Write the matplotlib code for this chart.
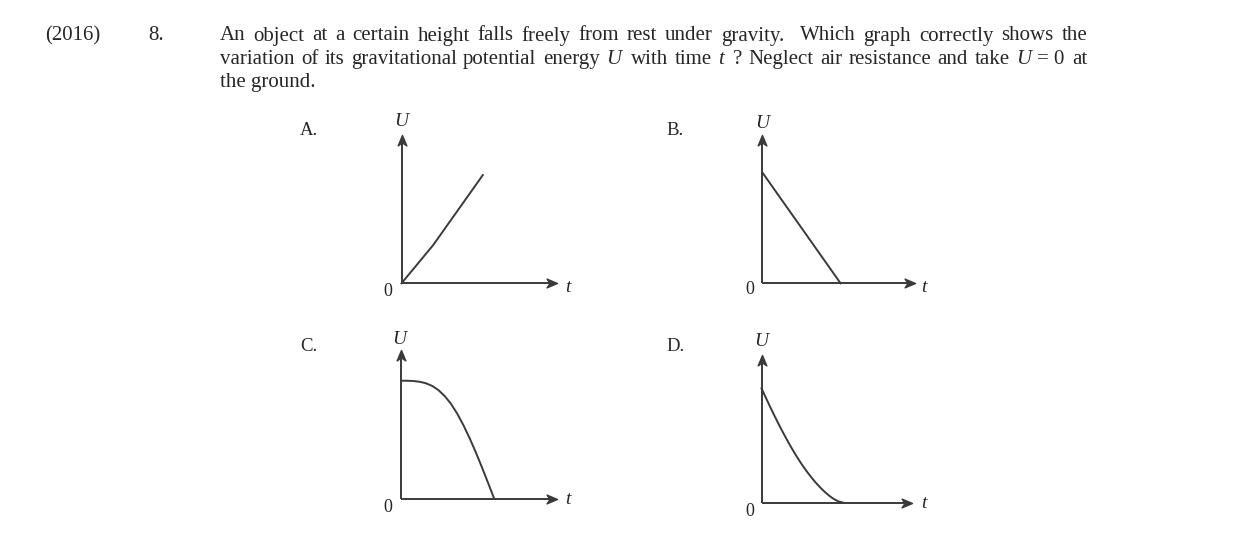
import matplotlib
matplotlib.use("Agg")
import matplotlib.pyplot as plt
from matplotlib.path import Path

plt.rcParams['font.family'] = ['Liberation Serif', 'DejaVu Serif']
plt.rcParams['mathtext.fontset'] = 'custom'
plt.rcParams['mathtext.rm'] = 'Liberation Serif'
plt.rcParams['mathtext.it'] = 'Liberation Serif:italic'

W, H = 1240, 536
TEXT_COLOR = '#262626'
LINE_COLOR = '#3a3a3a'

# --------------------------------------Data--------------------------------------
year = "(2016)"
number = "8."
question_lines = [
    "An object at a certain height falls freely from rest under gravity.  Which graph correctly shows the",
    "variation of its gravitational potential energy $U$ with time $t$ ? Neglect air resistance and take $U = 0$ at",
    "the ground.",
]
options = ["A.", "B.", "C.", "D."]

# curves in axis units (t from origin to arrow tip = 1, U from origin to arrow tip = 1)
a_t = [0, 0.204, 0.523]
a_u = [0, 0.258, 0.730]
b_t = [0, 0.512]
b_u = [0.746, 0]
c_t = [0, 0.04, 0.08, 0.12, 0.16, 0.20, 0.24, 0.28, 0.32, 0.36, 0.40, 0.44, 0.48, 0.52, 0.56, 0.597]
c_u = [0.793, 0.793, 0.791, 0.786, 0.776, 0.758, 0.730, 0.690, 0.638, 0.572, 0.494, 0.406, 0.310, 0.207, 0.100, 0.0]
d_t = [0, 0.03, 0.06, 0.09, 0.12, 0.15, 0.18, 0.21, 0.24, 0.27, 0.30, 0.33, 0.36, 0.39, 0.42, 0.45, 0.48, 0.51, 0.54]
d_u = [0.774, 0.708, 0.643, 0.580, 0.519, 0.461, 0.405, 0.352, 0.302, 0.255, 0.212, 0.172, 0.135, 0.102, 0.072,
       0.046, 0.024, 0.008, 0.0]
# --------------------------------------Data--------------------------------------

curves = [(a_t, a_u), (b_t, b_u), (c_t, c_u), (d_t, d_u)]

# layout of each small graph in pixels: origin x, origin y, x arrow tip, y arrow tip
frames = [
    (401.5, 283.3, 557, 135),
    (762.5, 283.3, 915, 135),
    (401.0, 498.5, 557, 350),
    (761.5, 502.5, 912, 355),
]
# label positions in pixels: option label (left, baseline), U (center, baseline), 0 (center), t (center)
label_pos = [
    ((300, 135), (402.5, 126.5), (388, 291), (568.5, 287)),
    ((666.5, 135), (764, 128.5), (750, 290), (925, 287)),
    ((300.5, 351), (400.5, 343.5), (387.5, 508), (568.5, 500)),
    ((666, 351), (762.5, 345.5), (750, 511), (925, 503)),
]


def px(x, y):
    return x / W, 1 - y / H


# stealth-like arrow head, pointing right / up
head_r = Path([(0, 0), (-1, 0.42), (-0.72, 0), (-1, -0.42), (0, 0)],
              [Path.MOVETO, Path.LINETO, Path.LINETO, Path.LINETO, Path.CLOSEPOLY])
head_u = Path([(0, 0), (0.42, -1), (0, -0.72), (-0.42, -1), (0, 0)],
              [Path.MOVETO, Path.LINETO, Path.LINETO, Path.LINETO, Path.CLOSEPOLY])


def main() -> None:
    fig = plt.figure(figsize=(W / 100, H / 100), dpi=100)
    fig.patch.set_facecolor('white')
    renderer = fig.canvas.get_renderer()

    # header
    fig.text(*px(45, 40.5), year, fontsize=15, color=TEXT_COLOR, ha='left', va='baseline')
    fig.text(*px(148.5, 40.5), number, fontsize=15, color=TEXT_COLOR, ha='left', va='baseline')

    # question text, justified between x0 and x1
    x0, x1 = 220, 1087
    baselines = [40.5, 64, 87.5]
    for i, (line, yb) in enumerate(zip(question_lines, baselines)):
        if i == len(question_lines) - 1:
            fig.text(*px(x0, yb), line, fontsize=15, color=TEXT_COLOR, ha='left', va='baseline')
            continue
        raw = line.replace("$U = 0$", "$U\\,=\\,0$")
        tokens = raw.split(" ")
        words, weights = [], []
        for tok in tokens:
            if tok == "":
                weights[-1] += 1
            else:
                words.append(tok)
                weights.append(1)
        weights = weights[:-1]
        objs = [fig.text(0, 0, w, fontsize=15, color=TEXT_COLOR, ha='left', va='baseline') for w in words]
        widths = [o.get_window_extent(renderer).width for o in objs]
        unit = (x1 - x0 - sum(widths)) / sum(weights)
        x = x0
        for k, (o, w) in enumerate(zip(objs, widths)):
            o.set_position(px(x, yb))
            if k < len(weights):
                x += w + unit * weights[k]

    for (ox, oy, tx, ty), (t, u), lab, opt in zip(frames, curves, label_pos, options):
        ax = fig.add_axes([ox / W, 1 - oy / H, (tx - ox) / W, (oy - ty) / H])
        ax.set_xlim(0, 1)
        ax.set_ylim(0, 1)
        ax.axis('off')
        ax.plot([0, 0.96], [0, 0], color=LINE_COLOR, lw=1.4, clip_on=False, solid_capstyle='butt')
        ax.plot([0, 0], [0, 0.96], color=LINE_COLOR, lw=1.4, clip_on=False, solid_capstyle='butt')
        ax.plot([1], [0], marker=head_r, markersize=15, color=LINE_COLOR, clip_on=False)
        ax.plot([0], [1], marker=head_u, markersize=15, color=LINE_COLOR, clip_on=False)
        ax.plot(t, u, color=LINE_COLOR, lw=1.4, clip_on=False, solid_joinstyle='round')

        (lx, ly), (ux, uy), (zx, zy), (tx_, ty_) = lab
        fig.text(*px(lx, ly), opt, fontsize=13.5, color=TEXT_COLOR, ha='left', va='baseline')
        fig.text(*px(ux, uy), "$U$", fontsize=14, color=TEXT_COLOR, ha='center', va='baseline')
        fig.text(*px(zx, zy), "0", fontsize=13, color=TEXT_COLOR, ha='center', va='center')
        fig.text(*px(tx_, ty_), "$t$", fontsize=14, color=TEXT_COLOR, ha='center', va='center')

    fig.savefig("out.png", dpi=100, facecolor='white')


if __name__ == "__main__":
    main()
